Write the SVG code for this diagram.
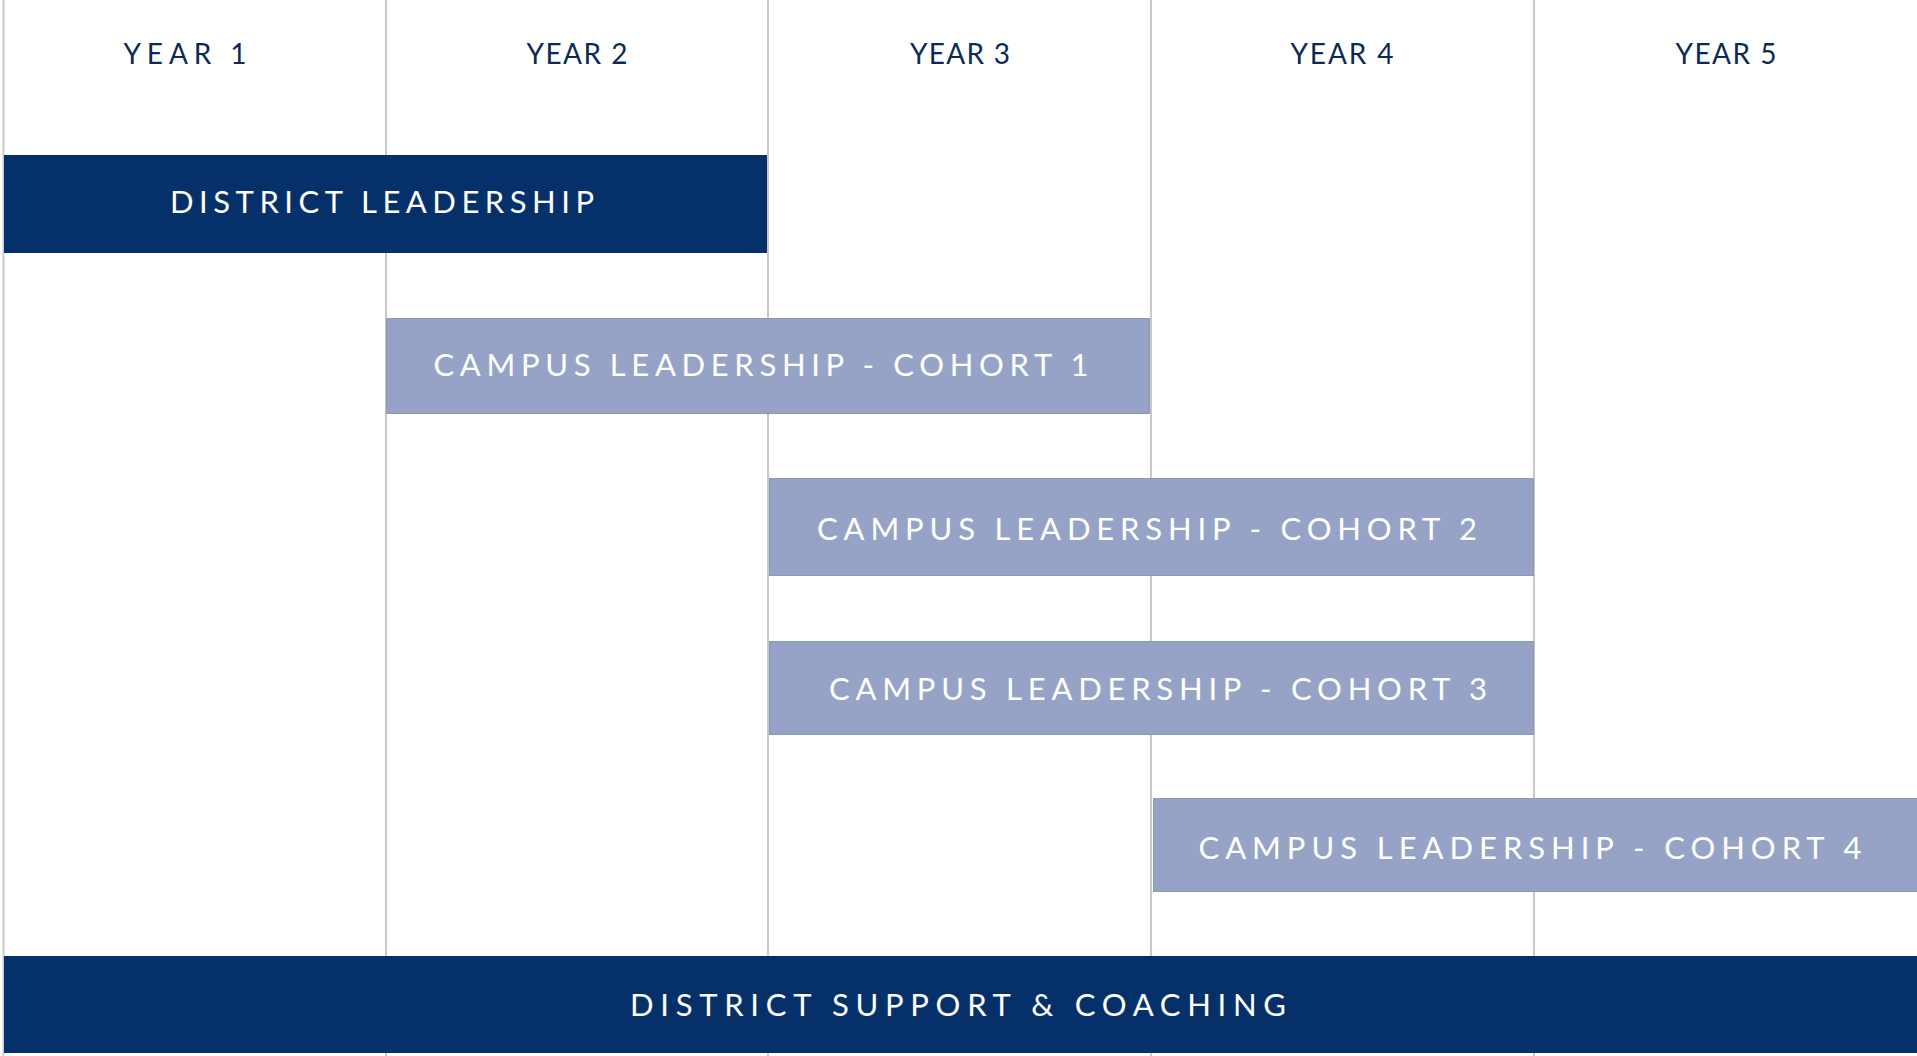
<svg xmlns="http://www.w3.org/2000/svg" width="1917" height="1056" viewBox="0 0 1917 1056">
<style>
.grid{stroke:#c9c9c9;stroke-width:2;fill:none}
.hdr{font-family:Lato,"Liberation Sans",sans-serif;font-size:28px;fill:#0d2a57;text-anchor:middle}
.dark{fill:#06306a}
.light{fill:#97a3c6;stroke:#8d98b8;stroke-width:1}
.lbl{font-family:Lato,"Liberation Sans",sans-serif;font-size:31px;fill:#ffffff;text-anchor:middle}
</style>
<rect width="1917" height="1056" fill="#ffffff"/>
<g id="grid" class="grid">
<line x1="3.5" y1="0" x2="3.5" y2="1056"/>
<line x1="386" y1="0" x2="386" y2="1056"/>
<line x1="768" y1="0" x2="768" y2="1056"/>
<line x1="1151" y1="0" x2="1151" y2="1056"/>
<line x1="1534" y1="0" x2="1534" y2="1056"/>
</g>
<g id="headers">
<text class="hdr" x="185" y="64" textLength="123" lengthAdjust="spacing">YEAR 1</text>
<text class="hdr" x="577" y="64" textLength="101" lengthAdjust="spacing">YEAR 2</text>
<text class="hdr" x="960" y="64" textLength="100" lengthAdjust="spacing">YEAR 3</text>
<text class="hdr" x="1342" y="64" textLength="103" lengthAdjust="spacing">YEAR 4</text>
<text class="hdr" x="1726" y="64" textLength="101" lengthAdjust="spacing">YEAR 5</text>
</g>
<g id="district-leadership">
<rect class="dark" x="4" y="155" width="763" height="98"/>
<text class="lbl" x="382" y="213" textLength="424" lengthAdjust="spacing">DISTRICT LEADERSHIP</text>
</g>
<g id="cohort-1">
<rect class="light" x="386.5" y="318.5" width="763" height="95"/>
<text class="lbl" x="761" y="376" textLength="655" lengthAdjust="spacing">CAMPUS LEADERSHIP - COHORT 1</text>
</g>
<g id="cohort-2">
<rect class="light" x="769.5" y="478.5" width="764" height="97"/>
<text class="lbl" x="1147" y="540" textLength="660" lengthAdjust="spacing">CAMPUS LEADERSHIP - COHORT 2</text>
</g>
<g id="cohort-3">
<rect class="light" x="769.5" y="641.5" width="764" height="93"/>
<text class="lbl" x="1158" y="700" textLength="658" lengthAdjust="spacing">CAMPUS LEADERSHIP - COHORT 3</text>
</g>
<g id="cohort-4">
<rect class="light" x="1153.5" y="798.5" width="764" height="93"/>
<text class="lbl" x="1530" y="859" textLength="663" lengthAdjust="spacing">CAMPUS LEADERSHIP - COHORT 4</text>
</g>
<g id="district-support">
<rect class="dark" x="4" y="956" width="1913" height="97"/>
<text class="lbl" x="958" y="1016" textLength="656" lengthAdjust="spacing">DISTRICT SUPPORT &amp; COACHING</text>
</g>
</svg>
